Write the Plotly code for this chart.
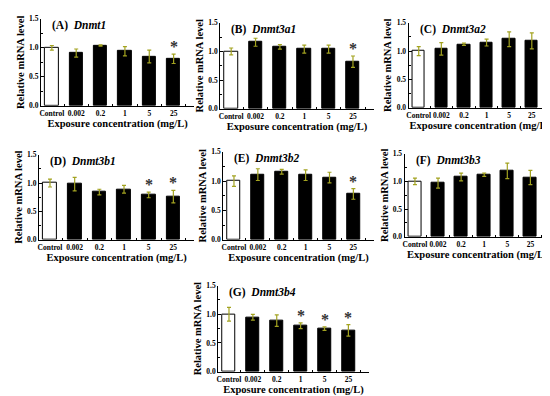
import plotly.graph_objects as go

W, H = 550, 396
categories = ["Control", "0.002", "0.2", "1", "5", "25"]

panel_labels = ["(A)", "(B)", "(C)", "(D)", "(E)", "(F)", "(G)"]
genes = ["Dnmt1", "Dnmt3a1", "Dnmt3a2", "Dnmt3b1", "Dnmt3b2", "Dnmt3b3", "Dnmt3b4"]

dnmt1_mean = [1.00, 0.91, 1.04, 0.94, 0.85, 0.81]
dnmt1_err = [0.04, 0.07, 0.01, 0.08, 0.11, 0.08]
dnmt1_sig = [False, False, False, False, False, True]

dnmt3a1_mean = [1.00, 1.16, 1.08, 1.04, 1.04, 0.82]
dnmt3a1_err = [0.06, 0.07, 0.04, 0.07, 0.07, 0.10]
dnmt3a1_sig = [False, False, False, False, False, True]

dnmt3a2_mean = [1.00, 1.04, 1.12, 1.15, 1.21, 1.18]
dnmt3a2_err = [0.08, 0.11, 0.02, 0.06, 0.13, 0.14]
dnmt3a2_sig = [False, False, False, False, False, False]

dnmt3b1_mean = [1.00, 0.98, 0.84, 0.89, 0.79, 0.76]
dnmt3b1_err = [0.07, 0.12, 0.05, 0.07, 0.05, 0.11]
dnmt3b1_sig = [False, False, False, False, True, True]

dnmt3b2_mean = [1.00, 1.11, 1.16, 1.10, 1.06, 0.78]
dnmt3b2_err = [0.09, 0.10, 0.04, 0.09, 0.09, 0.09]
dnmt3b2_sig = [False, False, False, False, False, True]

dnmt3b3_mean = [1.00, 0.97, 1.08, 1.12, 1.19, 1.07]
dnmt3b3_err = [0.06, 0.09, 0.07, 0.03, 0.14, 0.13]
dnmt3b3_sig = [False, False, False, False, False, False]

dnmt3b4_mean = [1.00, 0.95, 0.89, 0.80, 0.75, 0.72]
dnmt3b4_err = [0.12, 0.05, 0.10, 0.05, 0.03, 0.10]
dnmt3b4_sig = [False, False, False, True, True, True]

means = [dnmt1_mean, dnmt3a1_mean, dnmt3a2_mean, dnmt3b1_mean, dnmt3b2_mean, dnmt3b3_mean, dnmt3b4_mean]
errs = [dnmt1_err, dnmt3a1_err, dnmt3a2_err, dnmt3b1_err, dnmt3b2_err, dnmt3b3_err, dnmt3b4_err]
sigs = [dnmt1_sig, dnmt3a1_sig, dnmt3a2_sig, dnmt3b1_sig, dnmt3b2_sig, dnmt3b3_sig, dnmt3b4_sig]

# plot areas in pixels: (x_left, x_right, y_top, y_bottom)
boxes = [
    (31, 185, 7, 96),
    (211, 365, 11, 99),
    (400, 543, 11, 98),
    (29, 185, 146, 233),
    (214, 365, 143, 233),
    (396, 542, 145, 230),
    (209, 360, 280, 368),
]

FONT = "Liberation Serif"
ERRC = "#a3a320"

fig = go.Figure()
xs = list(range(len(categories)))

for i in range(7):
    n = "" if i == 0 else str(i + 1)
    xa, ya = "x" + n, "y" + n
    colors = ["white"] + ["black"] * (len(categories) - 1)
    fig.add_trace(go.Bar(
        x=xs, y=means[i], width=0.55,
        marker=dict(color=colors, line=dict(color="black", width=1)),
        error_y=dict(type="data", array=errs[i], color=ERRC, thickness=1.2, width=2),
        xaxis=xa, yaxis=ya, showlegend=False,
    ))
    for x, m, e, s in zip(xs, means[i], errs[i], sigs[i]):
        if s:
            fig.add_annotation(
                x=x, y=m + e, xref=xa, yref=ya, text="<b>*</b>", showarrow=False,
                yanchor="bottom", yshift=-3,
                font=dict(family=FONT, size=16, color="#333333"),
            )
    l, r, t, b = boxes[i]
    xd = [l / W, r / W]
    yd = [1 - b / H, 1 - t / H]
    fig.layout["xaxis" + n] = dict(
        domain=xd, anchor=ya, range=[-0.45, 5.85],
        tickmode="array", tickvals=xs, ticktext=categories, tickangle=0,
        ticks="", showline=True, linecolor="black", linewidth=1,
        showgrid=False, zeroline=False,
        tickfont=dict(family=FONT, size=7.5, color="black", weight="bold"),
        minor=dict(tickvals=[0.5, 1.5, 2.5, 3.5, 4.5, 5.5], ticks="inside", ticklen=2, tickcolor="black"),
        title=dict(text="<b>Exposure concentration (mg/L)</b>", font=dict(family=FONT, size=10.5, color="black"), standoff=2),
    )
    fig.layout["yaxis" + n] = dict(
        domain=yd, anchor=xa, range=[0, 1.5],
        tickmode="array", tickvals=[0, 0.5, 1.0, 1.5], ticktext=["0.0", "0.5", "1.0", "1.5"],
        ticks="inside", ticklen=3, tickcolor="black",
        minor=dict(tickvals=[0.25, 0.75, 1.25], ticks="inside", ticklen=2, tickcolor="black"),
        showline=True, linecolor="black", linewidth=1, showgrid=False, zeroline=False,
        tickfont=dict(family=FONT, size=7.5, color="black", weight="bold"),
        title=dict(text="<b>Relative mRNA level</b>", font=dict(family=FONT, size=10.5, color="black"), standoff=2),
    )
    fig.add_annotation(
        x=(l + 9) / W, y=1 - (t + 7) / H, xref="paper", yref="paper",
        xanchor="left", yanchor="middle", showarrow=False,
        text="<b>%s  <i>%s</i></b>" % (panel_labels[i], genes[i]),
        font=dict(family=FONT, size=11.5, color="black"),
    )

fig.update_layout(
    width=W, height=H, margin=dict(l=0, r=0, t=0, b=0),
    paper_bgcolor="white", plot_bgcolor="white", bargap=0,
)
fig.write_html("out.html")
